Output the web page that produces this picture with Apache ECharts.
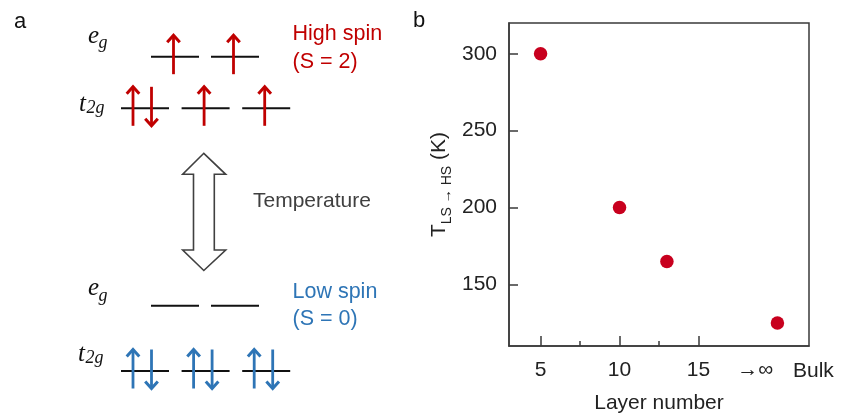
<!DOCTYPE html>
<html><head><meta charset="utf-8">
<script src="https://cdn.jsdelivr.net/npm/echarts@6/dist/echarts.min.js"></script>
<style>html,body{margin:0;padding:0;background:#fff}#c{width:844px;height:419px}</style>
</head><body><div id="c"></div>
<script>
// ---- Panel b data ----
const layerNumbers = [5, 10, 13, 20];          // 20 = position of "bulk"
const transitionTemps = [300, 200, 165, 125];  // T(LS->HS) in K
const xTickValues = [5, 10, 15];
const xMinorTickValues = [7.5, 12.5];
const xLabelValues = [5, 10, 15, 18.6];
const xLabelTexts = ['5', '10', '15', '→∞'];
const yTickValues = [150, 200, 250, 300];
const yTickLabels = ['150', '200', '250', '300'];

// ---- Panel a data: electrons per orbital ----
const highSpinEg = [1, 1];
const highSpinT2g = [2, 1, 1];
const lowSpinEg = [0, 0];
const lowSpinT2g = [2, 2, 2];

const RED = '#C00000', BLUE = '#2E75B6', DOT = '#C8001E', DARK = '#222';
const SANS = '"Liberation Sans", Arial, sans-serif';
const SERIF = '"Liberation Serif", "Times New Roman", serif';

const g = [];
function line(x1, y1, x2, y2, stroke, w) {
  g.push({type: 'line', shape: {x1, y1, x2, y2}, style: {stroke, lineWidth: w}, silent: true});
}
function spin(x, yLine, up, color) {
  const top = yLine - 23, bot = yLine + 19;
  const w = 2.8;
  line(x, top + 1.5, x, bot - 1.5, color, w);
  if (up) {
    g.push({type: 'polyline', shape: {points: [[x - 6.3, top + 8.5], [x, top + 1.5], [x + 6.3, top + 8.5]]},
      style: {stroke: color, lineWidth: 3, fill: null, lineJoin: 'miter'}, silent: true});
  } else {
    g.push({type: 'polyline', shape: {points: [[x - 6.3, bot - 8.5], [x, bot - 1.5], [x + 6.3, bot - 8.5]]},
      style: {stroke: color, lineWidth: 3, fill: null, lineJoin: 'miter'}, silent: true});
  }
}
function levels(occ, x0, step, width, y, color) {
  occ.forEach((n, i) => {
    const xs = x0 + i * step, xe = xs + width, c = (xs + xe) / 2;
    line(xs, y, xe, y, '#111', 2);
    if (n === 1) spin(c - 1.5, y, true, color);
    if (n === 2) { spin(c - 12, y, true, color); spin(c + 6.5, y, false, color); }
  });
}
function txt(text, x, y, size, fill, family, opts) {
  opts = opts || {};
  g.push({type: 'text', silent: true, style: Object.assign({
    text, x, y, fill, fontSize: size, fontFamily: family,
    fontStyle: opts.italic ? 'italic' : 'normal',
    align: opts.align || 'left', verticalAlign: 'middle',
    textAlign: opts.align || 'left', textVerticalAlign: 'middle'
  })});
}
// baseline -> middle conversion
function sub(main, subs, xMain, baseMain, xSub, baseSub) {
  txt(main, xMain, baseMain - 0.3375 * 25, 25, '#111', SERIF, {italic: true});
  txt(subs, xSub, baseSub - 0.3375 * 18, 18, '#111', SERIF, {italic: true});
}

// high spin
levels(highSpinEg, 151, 60, 48, 56.7, RED);
levels(highSpinT2g, 121, 60.6, 48, 108.3, RED);
// low spin
levels(lowSpinEg, 151, 60, 48, 305.7, BLUE);
levels(lowSpinT2g, 121, 60.6, 48, 371, BLUE);

sub('e', 'g', 88, 44.5, 98.5, 49.5);
sub('t', '2g', 79, 112.5, 86.5, 114);
sub('e', 'g', 88, 297, 98.5, 302);
sub('t', '2g', 78, 362.5, 85.5, 364.5);

// double hollow arrow
g.push({type: 'polygon', silent: true, shape: {points: [
  [203.8, 153.3], [225.7, 174.3], [214.3, 174.3], [214.3, 250], [225.7, 250], [203.8, 270.5],
  [182.7, 250], [193.5, 250], [193.5, 174.3], [182.7, 174.3]
]}, style: {fill: '#fff', stroke: '#404040', lineWidth: 1.6, lineJoin: 'miter'}});

txt('High spin', 292.5, 34, 21.5, RED, SANS);
txt('(S = 2)', 292.5, 62.5, 21.5, RED, SANS);
txt('Low spin', 292.5, 291.7, 21.5, BLUE, SANS);
txt('(S = 0)', 292.5, 319.2, 21.5, BLUE, SANS);
txt('Temperature', 253, 201, 21, '#404040', SANS);
txt('a', 14, 21.5, 22, '#111', SANS);
txt('b', 413, 21, 22, '#111', SANS);
txt('Bulk', 793, 371.5, 21, DARK, SANS);

const chart = echarts.init(document.getElementById('c'), null, {renderer: 'canvas'});
chart.setOption({
  animation: false,
  backgroundColor: '#fff',
  grid: {left: 509, right: 35, top: 23, bottom: 72, show: true, borderColor: '#3a3a3a', borderWidth: 1.5, backgroundColor: 'transparent'},
  xAxis: [{
    type: 'value', min: 3, max: 22,
    name: 'Layer number', nameLocation: 'middle', nameGap: 47,
    nameTextStyle: {fontSize: 21, color: DARK, fontFamily: SANS},
    axisLine: {show: true, lineStyle: {color: '#3a3a3a', width: 1.5}},
    axisTick: {show: true, inside: true, length: 10, customValues: xTickValues, lineStyle: {color: '#3a3a3a', width: 1.5}},
    axisLabel: {show: true, margin: 14, fontSize: 21, color: DARK, fontFamily: SANS, customValues: xLabelValues,
      formatter: v => { const i = xLabelValues.indexOf(v); return i >= 0 ? xLabelTexts[i] : ''; }},
    splitLine: {show: false}
  }, {
    type: 'value', min: 3, max: 22, position: 'bottom', gridIndex: 0,
    axisLine: {show: false},
    axisTick: {show: true, inside: true, length: 5, customValues: xMinorTickValues, lineStyle: {color: '#3a3a3a', width: 1.5}},
    axisLabel: {show: false}, splitLine: {show: false}
  }],
  yAxis: {
    type: 'value', min: 110, max: 320,
    name: '{t|T}{s|LS → HS}{t| (K)}', nameLocation: 'middle', nameGap: 55,
    nameTextStyle: {color: DARK, fontFamily: SANS, rich: {
      t: {fontSize: 21, fontFamily: SANS, color: DARK, lineHeight: 30, verticalAlign: 'middle'},
      s: {fontSize: 14, fontFamily: SANS, color: DARK, lineHeight: 14, verticalAlign: 'bottom'}
    }},
    axisLine: {show: true, lineStyle: {color: '#3a3a3a', width: 1.5}},
    axisTick: {show: true, inside: true, length: 9, customValues: yTickValues, lineStyle: {color: '#3a3a3a', width: 1.5}},
    axisLabel: {show: true, margin: 12, fontSize: 21, color: DARK, fontFamily: SANS, customValues: yTickValues,
      formatter: v => { const i = yTickValues.indexOf(v); return i >= 0 ? yTickLabels[i] : ''; }},
    splitLine: {show: false}
  },
  series: [{
    type: 'scatter', xAxisIndex: 0, yAxisIndex: 0,
    symbol: 'circle', symbolSize: 13.5,
    itemStyle: {color: DOT, opacity: 1},
    data: layerNumbers.map((x, i) => [x, transitionTemps[i]])
  }],
  graphic: {elements: g}
});
</script></body></html>
